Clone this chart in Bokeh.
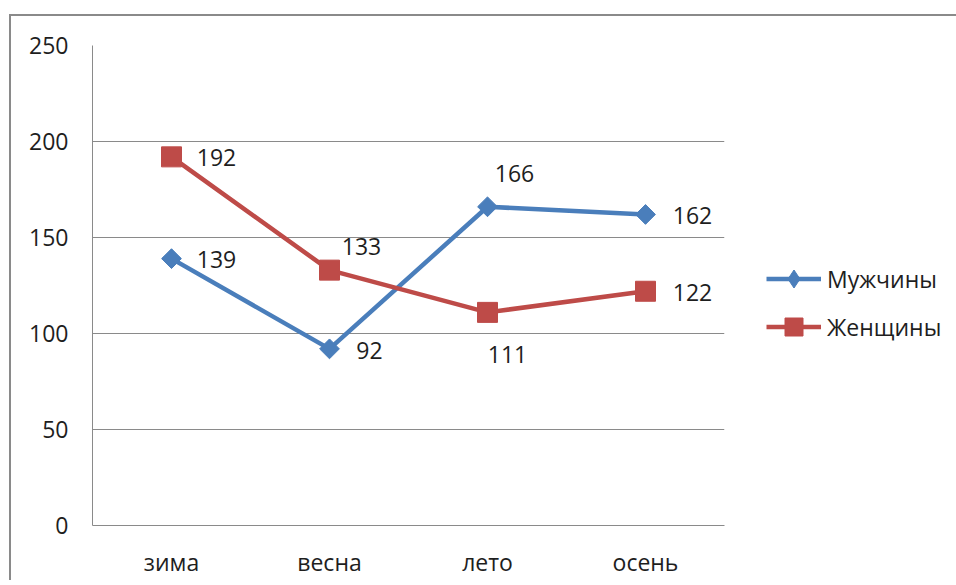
from bokeh.plotting import figure
from bokeh.models import (ColumnDataSource, Range1d, FixedTicker, Legend, LegendItem,
                          InlineStyleSheet)
from bokeh.core.properties import value
from bokeh.embed import file_html
from bokeh.resources import INLINE
import numpy as np

seasons = ["зима", "весна", "лето", "осень"]
men = [139, 92, 166, 162]
women = [192, 133, 111, 122]
series_names = ["Мужчины", "Женщины"]
y_ticks = [0, 50, 100, 150, 200, 250]

# label placement (pixels, screen)
men_dx = [45, 40, 27, 47]
men_dy = [1, 2, -33, 1]
women_dx = [45, 32, 20, 47]
women_dy = [1, -24, 42, 1]

FONT = "Open Sans"
BLUE = "#4a7ebb"
RED = "#be4b48"
GRID = "#8a8a8a"
TXT = "#1e1e1e"

p = figure(x_range=seasons, y_range=Range1d(0, 250),
           frame_width=632, frame_height=480,
           min_border_left=81, min_border_top=29, min_border_right=224, min_border_bottom=50,
           output_backend="svg", toolbar_location=None)
p.stylesheets = [InlineStyleSheet(css=":host { border-left: 2px solid #8a8a8a; border-top: 2px solid #8a8a8a; margin-left: 9px; margin-top: 14px; }")]

p.outline_line_color = None
p.background_fill_color = "white"
p.border_fill_color = "white"

p.xgrid.grid_line_color = None
p.ygrid.grid_line_color = GRID
p.ygrid.grid_line_width = 1
p.yaxis.ticker = FixedTicker(ticks=y_ticks)

for ax in (p.xaxis, p.yaxis):
    ax.axis_line_color = GRID
    ax.axis_line_width = 1
    ax.major_tick_line_color = None
    ax.minor_tick_line_color = None
    ax.major_tick_out = 0
    ax.major_tick_in = 0
    ax.major_label_text_font = FONT
    ax.major_label_text_font_size = "23px"
    ax.major_label_text_color = TXT
p.yaxis.major_label_standoff = 24
p.xaxis.major_label_standoff = 20

src_m = ColumnDataSource(dict(x=seasons, y=men, lab=[str(v) for v in men], dx=men_dx, dy=men_dy))
src_w = ColumnDataSource(dict(x=seasons, y=women, lab=[str(v) for v in women], dx=women_dx, dy=women_dy))

lm = p.line("x", "y", source=src_m, line_color=BLUE, line_width=4.5)
# diamond drawn under the rotated square: used as the legend symbol
mm_leg = p.scatter("x", "y", source=src_m, marker="diamond", size=18,
                   fill_color=BLUE, line_color=BLUE)
mm = p.scatter("x", "y", source=src_m, marker="square", size=14, angle=np.pi / 4,
               fill_color=BLUE, line_color=BLUE)
lw = p.line("x", "y", source=src_w, line_color=RED, line_width=4.5)
mw = p.scatter("x", "y", source=src_w, marker="square", size=20,
               fill_color=RED, line_color=RED)

for src in (src_m, src_w):
    p.text("x", "y", text="lab", source=src, x_offset="dx", y_offset="dy",
           text_align="center", text_baseline="middle",
           text_font=value(FONT), text_font_size="23px", text_color=TXT)

legend = Legend(items=[LegendItem(label=series_names[0], renderers=[lm, mm_leg]),
                       LegendItem(label=series_names[1], renderers=[lw, mw])],
                location=(42, 176), orientation="vertical",
                glyph_width=55, glyph_height=45, label_height=28, spacing=3,
                label_standoff=6, padding=0, margin=0,
                border_line_color=None, background_fill_alpha=0,
                label_text_font=FONT, label_text_font_size="23px", label_text_color=TXT)
p.add_layout(legend, "right")

open("out.html", "w").write(file_html(p, INLINE))
